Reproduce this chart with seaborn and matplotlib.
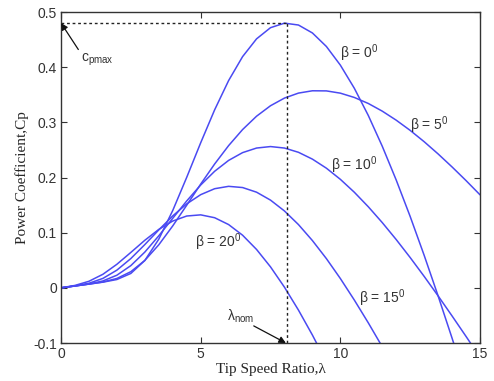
import pandas as pd
import matplotlib
matplotlib.use("Agg")
import matplotlib.pyplot as plt
import seaborn as sns

# -----------------------------
# Data (Cp vs tip speed ratio)
# -----------------------------
tsr = [0.0, 0.5, 1.0, 1.5, 2.0, 2.5, 3.0, 3.5, 4.0, 4.5, 5.0, 5.5, 6.0, 6.5, 7.0, 7.5,
       8.0, 8.5, 9.0, 9.5, 10.0, 10.5, 11.0, 11.5, 12.0, 12.5, 13.0, 13.5, 14.0, 14.5, 15.0]

cp_beta0 = [0, 0.0034, 0.0068, 0.0103, 0.0151, 0.0261, 0.0496, 0.0882, 0.1402, 0.2003,
            0.2629, 0.3227, 0.3757, 0.4191, 0.4513, 0.4716, 0.4798, 0.4764, 0.4620, 0.4375,
            0.4037, 0.3618, 0.3125, 0.2567, 0.1954, 0.1293, 0.0590, -0.0147, -0.0913, -0.1703]
cp_beta5 = [0, 0.0034, 0.0068, 0.0106, 0.0170, 0.0293, 0.0497, 0.0780, 0.1123, 0.1498,
            0.1880, 0.2245, 0.2578, 0.2869, 0.3111, 0.3301, 0.3440, 0.3530, 0.3572, 0.3570,
            0.3529, 0.3451, 0.3342, 0.3203, 0.3039, 0.2854, 0.2649, 0.2427, 0.2191, 0.1944, 0.1686]
cp_beta10 = [0, 0.0034, 0.0070, 0.0125, 0.0229, 0.0403, 0.0648, 0.0943, 0.1261, 0.1575,
             0.1864, 0.2113, 0.2310, 0.2451, 0.2534, 0.2561, 0.2534, 0.2457, 0.2333, 0.2169,
             0.1967, 0.1733, 0.1470, 0.1183, 0.0875, 0.0549, 0.0208, -0.0146, -0.0510, -0.0881, -0.1259]
cp_beta15 = [0, 0.0035, 0.0083, 0.0171, 0.0321, 0.0531, 0.0784, 0.1050, 0.1304, 0.1522,
             0.1689, 0.1797, 0.1840, 0.1818, 0.1734, 0.1590, 0.1393, 0.1147, 0.0857, 0.0530,
             0.0169, -0.0221, -0.0634, -0.1068]
cp_beta20 = [0, 0.0044, 0.0119, 0.0246, 0.0427, 0.0642, 0.0862, 0.1059, 0.1211, 0.1302,
             0.1323, 0.1271, 0.1147, 0.0954, 0.0696, 0.0380, 0.0011, -0.0403, -0.0856, -0.1344]

curves = {"0": cp_beta0, "5": cp_beta5, "10": cp_beta10, "15": cp_beta15, "20": cp_beta20}

cp_max = 0.48
lambda_nom = 8.1

x_ticks = [0, 5, 10, 15]
y_ticks = [-0.1, 0, 0.1, 0.2, 0.3, 0.4, 0.5]
y_tick_labels = ["-0.1", "0", "0.1", "0.2", "0.3", "0.4", "0.5"]

# long form table for seaborn
frames = []
for beta, vals in curves.items():
    frames.append(pd.DataFrame({"tsr": tsr[:len(vals)], "cp": vals, "beta": beta}))
df = pd.concat(frames, ignore_index=True)

# -----------------------------
# Plot
# -----------------------------
sns.set_style("ticks")
plt.rcParams["font.family"] = ["Liberation Sans", "DejaVu Sans"]

fig = plt.figure(figsize=(4.94, 3.81), dpi=100)
ax = fig.add_axes([0.1235, 0.0997, 0.8482, 0.8688])

line_color = "#4a4af2"
sns.lineplot(data=df, x="tsr", y="cp", hue="beta", palette=[line_color] * 5,
             estimator=None, sort=False, legend=False, linewidth=1.1, ax=ax)

# dotted guide lines for cp max / lambda nominal
ax.plot([0, lambda_nom], [cp_max, cp_max], color="#222222", lw=1.0, ls=(0, (2, 2)))
ax.plot([lambda_nom, lambda_nom], [-0.1, cp_max], color="#222222", lw=1.0, ls=(0, (2, 2)))

arrow = dict(arrowstyle="-|>", color="#111111", lw=0.9, mutation_scale=10, shrinkA=0, shrinkB=0)
ax.annotate("", xy=(0, cp_max), xytext=(0.62, 0.432), arrowprops=arrow)
ax.text(0.72, 0.413, r"c$_{\mathregular{pmax}}$", fontsize=10, va="center", ha="left", color="#333333")
ax.annotate("", xy=(lambda_nom - 0.05, -0.1), xytext=(6.9, -0.069), arrowprops=arrow)
ax.text(5.95, -0.052, r"λ$_{\mathregular{nom}}$", fontsize=10, va="center", ha="left", color="#333333")

# curve labels
label_pos = {"0": (10.0, 0.426), "5": (12.5, 0.295), "10": (9.65, 0.222),
             "15": (10.65, -0.018), "20": (4.8, 0.083)}
for beta, (lx, ly) in label_pos.items():
    ax.text(lx, ly, "β = " + beta + r"$^{\mathregular{0}}$", fontsize=10,
            va="center", ha="left", color="#333333")

ax.set_xlim(0, 15)
ax.set_ylim(-0.1, 0.5)
ax.set_xticks(x_ticks)
ax.set_xticklabels([str(t) for t in x_ticks])
ax.set_yticks(y_ticks)
ax.set_yticklabels(y_tick_labels)
ax.tick_params(direction="in", top=True, right=True, length=4, width=0.8,
               labelsize=10, labelcolor="#333333", color="#333333", pad=3)
for sp in ax.spines.values():
    sp.set_visible(True)
    sp.set_color("#333333")
    sp.set_linewidth(1.0)

ax.set_xlabel("Tip Speed Ratio,λ", fontsize=11, family=["Liberation Serif", "DejaVu Serif"], labelpad=1)
ax.set_ylabel("Power Coefficient,Cp", fontsize=11, family=["Liberation Serif", "DejaVu Serif"], labelpad=3)

fig.savefig("out.png", dpi=100)
